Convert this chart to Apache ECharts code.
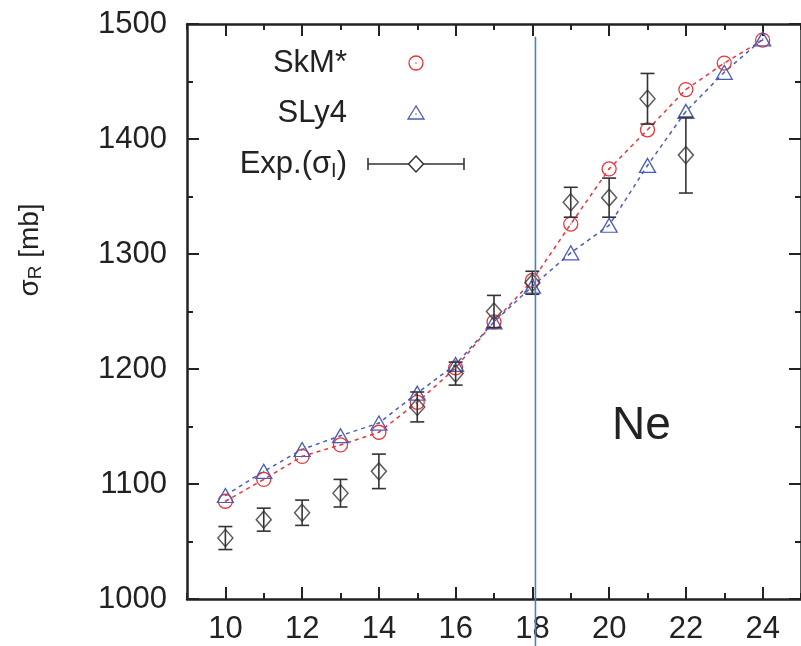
<!DOCTYPE html>
<html><head><meta charset="utf-8">
<script src="https://cdn.jsdelivr.net/npm/echarts@6/dist/echarts.min.js"></script>
<style>html,body{margin:0;padding:0;background:#fff}#c{width:801px;height:646px}</style>
</head><body><div id="c"></div>
<script>
// ---- data ----
const neutronNumbers = [10,11,12,13,14,15,16,17,18,19,20,21,22,23,24];
const skmStar = [1085,1104,1124,1134,1145,1171,1201,1241,1277,1326,1374,1408,1443,1466,1486];
const sly4    = [1090,1111,1130,1142,1153,1179,1204,1241,1272,1301,1325,1377,1424,1458,1487];
const expN      = [10,11,12,13,14,15,16,17,18,19,20,21,22];
const expSigmaI = [1053,1069,1075,1092,1111,1167,1196,1250,1275,1345,1349,1435,1386];
const expErr    = [10,10,11,12,15,13,10,14,10,13,17,22,33];
const xMajorTicks = [10,12,14,16,18,20,22,24];
const xMinorTicks = [9,11,13,15,17,19,21,23,25];
const legendNames = ['SkM*','SLy4','Exp.(σI)'];
const neLineX = 18.08;
const neLineRange = [1489, 955];
const neLabelPos = [20.84, 1150];

const RED = '#e8353b', BLUE = '#4a5db5', BLACK = '#333333', AXIS = '#222222';
const FONT = '"Liberation Sans", Arial, Helvetica, sans-serif';

const chart = echarts.init(document.getElementById('c'), null, {renderer:'canvas'});
const zip = (xs, ys) => xs.map((x,i)=>[x, ys[i]]);

function xAx(pos, ticks, len, showLine, showLabel){
  return {
    type:'value', position:pos, min:9, max:25, gridIndex:0,
    axisLine:{show:showLine, onZero:false, lineStyle:{color:AXIS, width:2.5}},
    axisTick:{show:true, inside:true, length:len, customValues:ticks, lineStyle:{color:AXIS, width:2}},
    axisLabel:{show:showLabel, customValues:ticks, margin:15, color:'#222', fontSize:31, fontFamily:FONT,
      formatter:(v)=>String(v)},
    splitLine:{show:false}
  };
}
function yAx(pos, showLabel){
  return {
    type:'value', position:pos, min:1000, max:1500, interval:100,
    axisLine:{show:true, onZero:false, lineStyle:{color:AXIS, width:2.5}},
    axisTick:{show:true, inside:true, length:12, lineStyle:{color:AXIS, width:2}},
    minorTick:{show:true, splitNumber:2, length:6, lineStyle:{color:AXIS, width:2}},
    axisLabel:{show:showLabel, margin:20, color:'#222', fontSize:31, fontFamily:FONT,
      formatter:(v)=>String(v)},
    splitLine:{show:false}, minorSplitLine:{show:false}
  };
}

const option = {
  animation:false,
  backgroundColor:'#fff',
  grid:{left:187, top:24, width:616, height:575, containLabel:false},
  xAxis:[
    xAx('bottom', xMajorTicks, 12, true, true),
    xAx('bottom', xMinorTicks, 6, false, false),
    xAx('top', xMajorTicks, 12, true, false),
    xAx('top', xMinorTicks, 6, false, false)
  ],
  yAxis:[ yAx('left', true), yAx('right', false) ],
  series:[
    {
      name:legendNames[0], type:'line', data:zip(neutronNumbers, skmStar), z:3,
      symbol:'circle', symbolSize:14,
      itemStyle:{color:'rgba(0,0,0,0)', borderColor:RED, borderWidth:1.3},
      lineStyle:{color:RED, width:1.5, type:[4,4]},
      emphasis:{disabled:true}
    },
    {
      name:legendNames[1], type:'line', data:zip(neutronNumbers, sly4), z:3,
      symbol:'triangle', symbolSize:[16,14],
      itemStyle:{color:'rgba(0,0,0,0)', borderColor:BLUE, borderWidth:1.3},
      lineStyle:{color:BLUE, width:1.5, type:[4,4]},
      emphasis:{disabled:true}
    },
    {
      name:'err', type:'custom', z:4,
      data: expN.map((x,i)=>[x, expSigmaI[i], expErr[i]]),
      renderItem:function(params, api){
        const x = api.value(0), y = api.value(1), e = api.value(2);
        const t = api.coord([x, y+e]), b = api.coord([x, y-e]);
        const hw = 7, st = {stroke:BLACK, lineWidth:1.6};
        return {type:'group', children:[
          {type:'line', shape:{x1:t[0],y1:t[1],x2:b[0],y2:b[1]}, style:st},
          {type:'line', shape:{x1:t[0]-hw,y1:t[1],x2:t[0]+hw,y2:t[1]}, style:st},
          {type:'line', shape:{x1:b[0]-hw,y1:b[1],x2:b[0]+hw,y2:b[1]}, style:st}
        ]};
      }
    },
    {
      name:legendNames[2], type:'scatter', data:zip(expN, expSigmaI), z:5,
      symbol:'diamond', symbolSize:[15,17],
      itemStyle:{color:'rgba(0,0,0,0)', borderColor:BLACK, borderWidth:1.5},
      emphasis:{disabled:true}
    },
    {
      name:'dotsR', type:'scatter', data:zip(neutronNumbers, skmStar), z:6,
      symbol:'circle', symbolSize:1.6, itemStyle:{color:RED}, emphasis:{disabled:true}
    },
    {
      name:'dotsB', type:'scatter', data:zip(neutronNumbers, sly4), z:6,
      symbol:'circle', symbolSize:1.6, itemStyle:{color:BLUE}, emphasis:{disabled:true}
    }
  ]
};
chart.setOption(option);

// decorations placed through the axes
const p1 = chart.convertToPixel({xAxisIndex:0, yAxisIndex:0}, [neLineX, neLineRange[0]]);
const p2 = chart.convertToPixel({xAxisIndex:0, yAxisIndex:0}, [neLineX, neLineRange[1]]);
const pNe = chart.convertToPixel({xAxisIndex:0, yAxisIndex:0}, neLabelPos);

const legTextX = 347, legMarkX = 416, legY = [63, 113, 164];
const txt = {fill:'#222', fontSize:31, fontFamily:FONT, align:'right', verticalAlign:'middle'};
chart.setOption({
  graphic:[
    {type:'line', z:10, shape:{x1:p1[0], y1:p1[1], x2:p2[0], y2:p2[1]}, style:{stroke:'#4a80c4', lineWidth:1.6}},
    {type:'text', z:10, x:pNe[0], y:pNe[1], style:{text:'Ne', fill:'#222', fontSize:46, fontFamily:FONT, align:'center', verticalAlign:'middle'}},
    // y axis name
    {type:'text', z:10, x:30, y:250, rotation:Math.PI/2, style:{
      text:'{s|σ}{sub|R}{s| [mb]}', align:'center', verticalAlign:'middle',
      rich:{ s:{fontSize:28, fontFamily:FONT, fill:'#222'}, sub:{fontSize:19, fontFamily:FONT, fill:'#222', padding:[12,0,0,0]} }
    }},
    // legend
    {type:'text', z:10, x:legTextX, y:legY[0], style:Object.assign({text:legendNames[0]}, txt)},
    {type:'text', z:10, x:legTextX, y:legY[1], style:Object.assign({text:legendNames[1]}, txt)},
    {type:'text', z:10, x:legTextX, y:legY[2], style:Object.assign({}, txt, {
      text:'{n|Exp.(σ}{sub|I}{n|)}',
      rich:{ n:{fontSize:31, fontFamily:FONT, fill:'#222'}, sub:{fontSize:20, fontFamily:FONT, fill:'#222', padding:[14,0,0,0]} }
    })},
    {type:'circle', z:10, shape:{cx:legMarkX, cy:legY[0], r:7}, style:{fill:null, stroke:RED, lineWidth:1.3}},
    {type:'circle', z:10, shape:{cx:legMarkX, cy:legY[0], r:0.8}, style:{fill:RED}},
    {type:'polygon', z:10, shape:{points:[[legMarkX, legY[1]-7],[legMarkX-8, legY[1]+6],[legMarkX+8, legY[1]+6]]}, style:{fill:null, stroke:BLUE, lineWidth:1.3}},
    {type:'circle', z:10, shape:{cx:legMarkX, cy:legY[1]+1, r:0.8}, style:{fill:BLUE}},
    {type:'line', z:10, shape:{x1:368, y1:legY[2], x2:464, y2:legY[2]}, style:{stroke:BLACK, lineWidth:1.6}},
    {type:'line', z:10, shape:{x1:368, y1:legY[2]-6, x2:368, y2:legY[2]+6}, style:{stroke:BLACK, lineWidth:1.6}},
    {type:'line', z:10, shape:{x1:464, y1:legY[2]-6, x2:464, y2:legY[2]+6}, style:{stroke:BLACK, lineWidth:1.6}},
    {type:'polygon', z:11, shape:{points:[[legMarkX, legY[2]-8],[legMarkX+7.5, legY[2]],[legMarkX, legY[2]+8],[legMarkX-7.5, legY[2]]]}, style:{fill:'#fff', stroke:BLACK, lineWidth:1.5}}
  ]
});
</script>
</body></html>
